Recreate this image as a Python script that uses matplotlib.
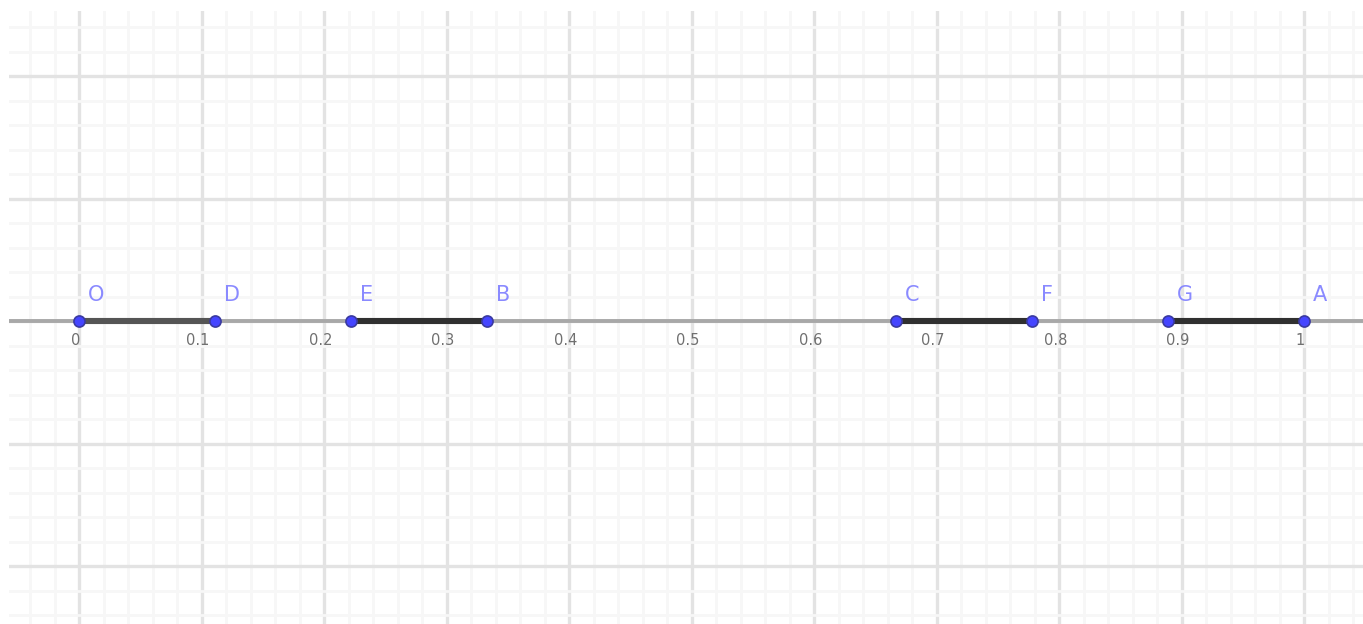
import matplotlib
matplotlib.use("Agg")
import matplotlib.pyplot as plt
from matplotlib.ticker import MultipleLocator

# ---- data ----
point_names = ["O", "D", "E", "B", "C", "F", "G", "A"]
point_x = [0.0, 0.111, 0.222, 0.333, 0.667, 0.778, 0.889, 1.0]
segments = [("O", "D"), ("E", "B"), ("C", "F"), ("G", "A")]
segment_colors = ["#555555", "#303030", "#303030", "#303030"]
tick_values = [0.0, 0.1, 0.2, 0.3, 0.4, 0.5, 0.6, 0.7, 0.8, 0.9, 1.0]
tick_labels = ["0", "0.1", "0.2", "0.3", "0.4", "0.5", "0.6", "0.7", "0.8", "0.9", "1"]

W, H = 1363, 624
fig = plt.figure(figsize=(W / 100, H / 100), dpi=100)
fig.patch.set_facecolor("white")
ax = fig.add_axes([9 / W, 0, (W - 9) / W, (H - 11) / H])

scale = 1225.0  # px per unit
x0px, y0px = 79, 321
ax.set_xlim((9 - x0px) / scale, (W - x0px) / scale)
ax.set_ylim(-(H - y0px) / scale, (y0px - 11) / scale)

# grid
ax.xaxis.set_major_locator(MultipleLocator(0.1))
ax.xaxis.set_minor_locator(MultipleLocator(0.02))
ax.yaxis.set_major_locator(MultipleLocator(0.1))
ax.yaxis.set_minor_locator(MultipleLocator(0.02))
ax.grid(which="major", color="#e3e3e3", linewidth=2.4, zorder=0)
ax.grid(which="minor", color="#f7f7f7", linewidth=2.0, zorder=0)
ax.set_axisbelow(True)
ax.tick_params(which="both", length=0, labelleft=False, labelbottom=False)
for s in ax.spines.values():
    s.set_visible(False)

# axis line
ax.axhline(0, color="#a8a8a8", linewidth=2.8, zorder=1)

# tick labels
for v, lab in zip(tick_values, tick_labels):
    ax.text(v - 0.003, -0.016, lab, ha="center", va="center", fontsize=10.5,
            color="#707070", zorder=2)

# segments
pos = dict(zip(point_names, point_x))
for (a, b), c in zip(segments, segment_colors):
    ax.plot([pos[a], pos[b]], [0, 0], color=c, linewidth=4.4,
            solid_capstyle="butt", zorder=3)

# points
ax.plot(point_x, [0] * len(point_x), linestyle="none", marker="o",
        markersize=8, markerfacecolor="#4545ff", markeredgecolor="#3a3aa0",
        markeredgewidth=1.2, zorder=4)

for n, x in zip(point_names, point_x):
    ax.text(x + 0.0075, 0.021, n, ha="left", va="center", fontsize=15,
            color="#8a8aff", zorder=5)

fig.savefig("out.png", dpi=100, facecolor="white")
